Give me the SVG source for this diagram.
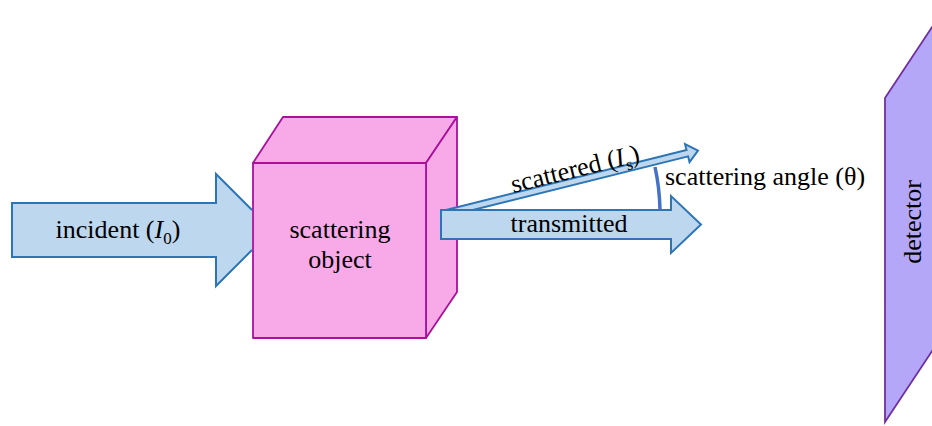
<svg xmlns="http://www.w3.org/2000/svg" width="932" height="426" viewBox="0 0 932 426">
<style>
.lbl{font-family:"Liberation Serif","Times New Roman","DejaVu Serif",serif;font-size:26px;fill:#000}
.arrow{fill:#bdd7ee;stroke:#2e75b6;stroke-width:2;stroke-linejoin:miter}
.fillonly{fill:#bdd7ee;stroke:none}
.edge{fill:none;stroke:#2e75b6;stroke-width:2}
.cube{fill:#f8a9e8;stroke:#a8129b;stroke-width:1.8;stroke-linejoin:round}
.det{fill:#b4a7f7;stroke:#7030a0;stroke-width:1.8}
</style>
<rect width="932" height="426" fill="#fff"/>
<g id="object">
<polygon class="cube" points="253,163 283,117 457,117 426,163"/>
<polygon class="cube" points="426,163 457,117 457,292 426,338"/>
<rect class="cube" x="253" y="163" width="173" height="175"/>
<text class="lbl" x="340" y="238" text-anchor="middle">scattering</text>
<text class="lbl" x="340" y="268" text-anchor="middle">object</text>
</g>
<g id="detector">
<polygon class="det" points="885,98 960,-15 960,309 885,422"/>
<text class="lbl" transform="translate(921 222) rotate(-90)" text-anchor="middle">detector</text>
</g>
<g id="connectors">
<g id="incident">
<polygon class="fillonly" points="12,203 216,203 216,174 252,210 252,250 216,286 216,257 12,257"/>
<path class="edge" d="M252,210 L216,174 L216,203 L12,203 L12,257 L216,257 L216,286 L252,250"/>
<text class="lbl" x="118" y="238" text-anchor="middle">incident (<tspan font-style="italic">I</tspan><tspan font-size="17" dy="6">0</tspan><tspan dy="-6">)</tspan></text>
</g>
<g id="scattered">
<polygon class="arrow" transform="translate(442 211) rotate(-14)" points="0,0 252,0 252,-6 263,3.25 252,12.5 252,6.5 0,6.5"/>
<text class="lbl" transform="translate(577 177) rotate(-14)" text-anchor="middle">scattered (<tspan font-style="italic">I</tspan><tspan font-size="17" dy="6">s</tspan><tspan dy="-6">)</tspan></text>
</g>
<g id="transmitted">
<polygon class="arrow" points="441,210 671,210 671,196 701,224.5 671,253 671,239 441,239"/>
<text class="lbl" x="569" y="232" text-anchor="middle">transmitted</text>
</g>
<g id="angle">
<path d="M660,210 A219,219 0 0 0 655,167" fill="none" stroke="#4472c4" stroke-width="3.5"/>
<text class="lbl" x="665" y="185">scattering angle (θ)</text>
</g>
</g>
</svg>
